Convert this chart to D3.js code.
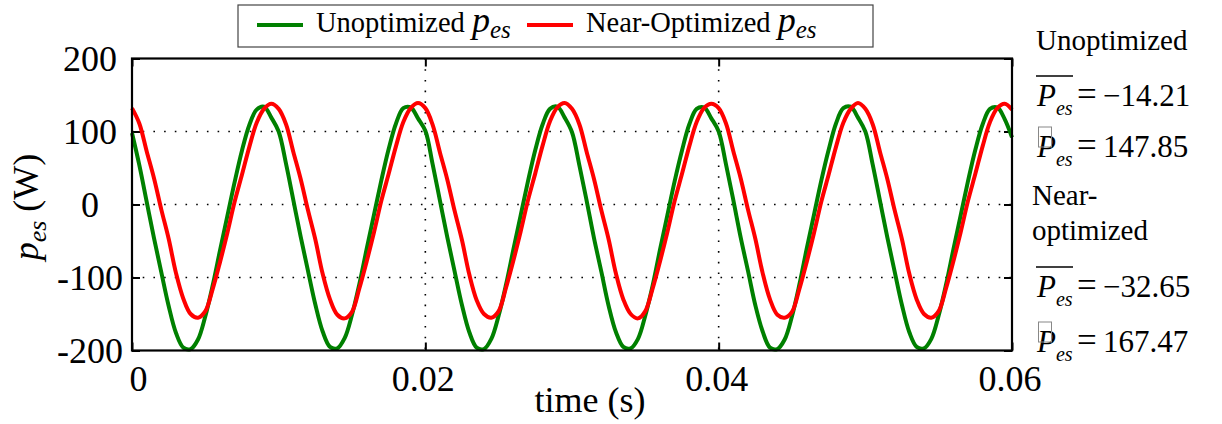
<!DOCTYPE html>
<html>
<head>
<meta charset="utf-8">
<script src="https://cdn.jsdelivr.net/npm/d3@7"></script>
<style>
body { margin: 0; background: #fff; }
text { font-family: "Liberation Serif", "Times New Roman", serif; fill: #000; }
</style>
</head>
<body>
<div id="my_dataviz"></div>
<script>
// sample times in ms
var timeMs = [
    0, 0.5, 1, 1.5, 2, 2.5, 3, 3.5, 4, 4.5, 5, 5.5, 6, 6.5, 7, 7.5, 8, 8.5, 9, 9.5,
    10, 10.5, 11, 11.5, 12, 12.5, 13, 13.5, 14, 14.5, 15, 15.5, 16, 16.5, 17, 17.5, 18, 18.5, 19, 19.5,
    20, 20.5, 21, 21.5, 22, 22.5, 23, 23.5, 24, 24.5, 25, 25.5, 26, 26.5, 27, 27.5, 28, 28.5, 29, 29.5,
    30, 30.5, 31, 31.5, 32, 32.5, 33, 33.5, 34, 34.5, 35, 35.5, 36, 36.5, 37, 37.5, 38, 38.5, 39, 39.5,
    40, 40.5, 41, 41.5, 42, 42.5, 43, 43.5, 44, 44.5, 45, 45.5, 46, 46.5, 47, 47.5, 48, 48.5, 49, 49.5,
    50, 50.5, 51, 51.5, 52, 52.5, 53, 53.5, 54, 54.5, 55, 55.5, 56, 56.5, 57, 57.5, 58, 58.5, 59, 59.5,
    60
];
var unoptimized = [
    98, 54, 4, -46, -93, -139, -176, -196, -198, -185, -153, -111, -63, -16, 31, 74, 109, 130, 134, 119,
    100, 56, 6, -44, -91, -137, -174, -195, -197, -183, -151, -109, -61, -14, 33, 76, 111, 132, 133, 118,
    101, 55, 5, -45, -92, -138, -175, -196, -198, -184, -152, -110, -62, -15, 32, 75, 110, 131, 134, 119,
    99, 54, 5, -46, -92, -139, -175, -195, -197, -184, -152, -111, -62, -15, 32, 74, 110, 131, 133, 118,
    100, 55, 6, -45, -91, -138, -174, -196, -198, -185, -153, -110, -61, -14, 33, 75, 111, 132, 134, 119,
    100, 55, 5, -45, -92, -138, -175, -195, -197, -184, -152, -110, -62, -15, 32, 75, 110, 131, 133, 117,
    92
];
var nearOptimized = [
    132, 111, 73, 36, -7, -47, -94, -129, -150, -155, -146, -116, -79, -39, 4, 41, 79, 112, 131, 138,
    131, 110, 72, 35, -8, -48, -95, -130, -151, -156, -147, -115, -78, -38, 5, 42, 80, 113, 132, 139,
    132, 109, 71, 34, -9, -49, -96, -131, -150, -155, -146, -114, -77, -37, 6, 43, 81, 114, 133, 139,
    131, 110, 72, 35, -8, -48, -95, -130, -150, -156, -146, -115, -78, -38, 5, 42, 80, 113, 132, 138,
    132, 111, 73, 36, -7, -47, -94, -130, -151, -155, -147, -116, -79, -39, 4, 41, 79, 112, 131, 139,
    131, 110, 72, 35, -8, -48, -95, -130, -150, -155, -146, -115, -78, -38, 5, 42, 80, 113, 132, 138,
    130
];
var xTicks = [0, 0.02, 0.04, 0.06];
var yTicks = [-200, -100, 0, 100, 200];
var gridX = [0.02, 0.04];
var gridY = [-100, 0, 100];
var seriesNames = ["Unoptimized ", "Near-Optimized "];
var seriesColors = ["#008000", "#ff0000"];
var meanValues = ["\u221214.21", "\u221232.65"];
var otherValues = ["147.85", "167.47"];

var margin = { top: 58.5, right: 210, bottom: 73.5, left: 132 },
    width = 1222 - margin.left - margin.right,
    height = 424 - margin.top - margin.bottom;

var svg = d3.select("#my_dataviz")
    .append("svg")
    .attr("width", 1222)
    .attr("height", 424);

var g = svg.append("g")
    .attr("transform", "translate(" + margin.left + "," + margin.top + ")");

var x = d3.scaleLinear().domain([0, 0.06]).range([0, width]);
var y = d3.scaleLinear().domain([-200, 200]).range([height, 0]);

// grid
g.selectAll(".gy")
    .data(gridY)
    .enter()
    .append("line")
    .attr("x1", 0).attr("x2", width)
    .attr("y1", function(d) { return y(d); })
    .attr("y2", function(d) { return y(d); })
    .attr("stroke", "#000")
    .attr("stroke-width", 1.6)
    .attr("stroke-dasharray", "1.6,9.1");

g.selectAll(".gx")
    .data(gridX)
    .enter()
    .append("line")
    .attr("y1", 0).attr("y2", height)
    .attr("x1", function(d) { return x(d); })
    .attr("x2", function(d) { return x(d); })
    .attr("stroke", "#000")
    .attr("stroke-width", 1.6)
    .attr("stroke-dasharray", "1.6,9.1");

// axes with inward ticks
var yAxis = g.append("g")
    .call(d3.axisLeft(y).tickValues(yTicks).tickSize(-8).tickFormat(function(d) { return String(d); }));
yAxis.select(".domain").remove();
yAxis.selectAll("line").attr("stroke-width", 2);
yAxis.selectAll("text")
    .attr("text-anchor", "middle")
    .attr("x", 90 - margin.left)
    .attr("dy", "0.34em")
    .style("font-size", "36px")
    .style("font-family", "Liberation Serif");

var xAxis = g.append("g")
    .attr("transform", "translate(0," + height + ")")
    .call(d3.axisBottom(x).tickValues(xTicks).tickSize(-8).tickFormat(function(d) { return d === 0 ? "0" : d3.format(".2f")(d); }));
xAxis.select(".domain").remove();
xAxis.selectAll("line").attr("stroke-width", 2);
xAxis.selectAll("text")
    .attr("y", 40)
    .attr("dy", 0)
    .attr("dx", function(d) { return d === 0 ? 6 : -2.5; })
    .style("font-size", "36px")
    .style("font-family", "Liberation Serif");

var rAxis = g.append("g")
    .attr("transform", "translate(" + width + ",0)")
    .call(d3.axisRight(y).tickValues(yTicks).tickSize(-8).tickFormat(""));
rAxis.select(".domain").remove();
rAxis.selectAll("line").attr("stroke-width", 2);

var tAxis = g.append("g")
    .call(d3.axisTop(x).tickValues(xTicks).tickSize(-8).tickFormat(""));
tAxis.select(".domain").remove();
tAxis.selectAll("line").attr("stroke-width", 2);

// lines
var seriesData = [unoptimized, nearOptimized];
var line = d3.line()
    .x(function(d, i) { return x(timeMs[i] / 1000); })
    .y(function(d) { return y(d); })
    .curve(d3.curveCatmullRom);

g.selectAll(".series")
    .data(seriesData)
    .enter()
    .append("path")
    .attr("d", function(d) { return line(d); })
    .attr("fill", "none")
    .attr("stroke", function(d, i) { return seriesColors[i]; })
    .attr("stroke-width", 4)
    .attr("stroke-linejoin", "round");

// frame
g.append("rect")
    .attr("width", width)
    .attr("height", height)
    .attr("fill", "none")
    .attr("stroke", "#000")
    .attr("stroke-width", 2.2);

// axis labels
svg.append("text")
    .attr("x", 590)
    .attr("y", 412)
    .attr("text-anchor", "middle")
    .style("font-size", "36px")
    .text("time (s)");

var yl = svg.append("text")
    .attr("transform", "translate(38,207) rotate(-90)")
    .attr("text-anchor", "middle")
    .style("font-size", "36px");
yl.append("tspan").style("font-style", "italic").text("p");
yl.append("tspan").style("font-style", "italic").style("font-size", "26px").attr("dy", 8).text("es");
yl.append("tspan").attr("dy", -8).text(" (W)");

// legend
svg.append("rect")
    .attr("x", 238).attr("y", 5)
    .attr("width", 635).attr("height", 42)
    .attr("fill", "#fff")
    .attr("stroke", "#444")
    .attr("stroke-width", 1.2);

var legendX = [257, 527];
seriesNames.forEach(function(name, i) {
    svg.append("line")
        .attr("x1", legendX[i]).attr("x2", legendX[i] + 46)
        .attr("y1", 25).attr("y2", 25)
        .attr("stroke", seriesColors[i])
        .attr("stroke-width", 4);
    var t = svg.append("text")
        .attr("x", legendX[i] + 59)
        .attr("y", 32)
        .style("font-size", "28.5px");
    t.append("tspan").text(name);
    t.append("tspan").style("font-style", "italic").style("font-size", "36px").text("p");
    t.append("tspan").style("font-style", "italic").style("font-size", "25px").attr("dy", 6).text("es");
});

// right side annotations
function header(txt, xx, yy) {
    svg.append("text")
        .attr("x", xx)
        .attr("y", yy)
        .style("font-size", "29px")
        .text(txt);
}

function statRow(val, yy, bar) {
    var t = svg.append("text")
        .attr("x", 1037)
        .attr("y", yy)
        .style("font-size", "31px");
    t.append("tspan").style("font-style", "italic").text("P");
    t.append("tspan").style("font-style", "italic").style("font-size", "20px").attr("dy", 9).text("es");
    t.append("tspan").attr("x", 1077).attr("dy", -9).style("font-size", "35px").text("=");
    t.append("tspan").attr("x", 1103).text(val);
    if (bar) {
        svg.append("line")
            .attr("x1", 1036).attr("x2", 1073)
            .attr("y1", yy - 30).attr("y2", yy - 30)
            .attr("stroke", "#000")
            .attr("stroke-width", 1.3);
    } else {
        svg.append("rect")
            .attr("x", 1038.5).attr("y", yy - 30)
            .attr("width", 13).attr("height", 20)
            .attr("fill", "none")
            .attr("stroke", "#888")
            .attr("stroke-width", 1);
    }
}

header("Unoptimized", 1036, 50);
statRow(meanValues[0], 106, true);
statRow(otherValues[0], 157, false);
header("Near-", 1032, 205);
header("optimized", 1032, 240);
statRow(meanValues[1], 297, true);
statRow(otherValues[1], 352, false);
</script>
</body>
</html>
